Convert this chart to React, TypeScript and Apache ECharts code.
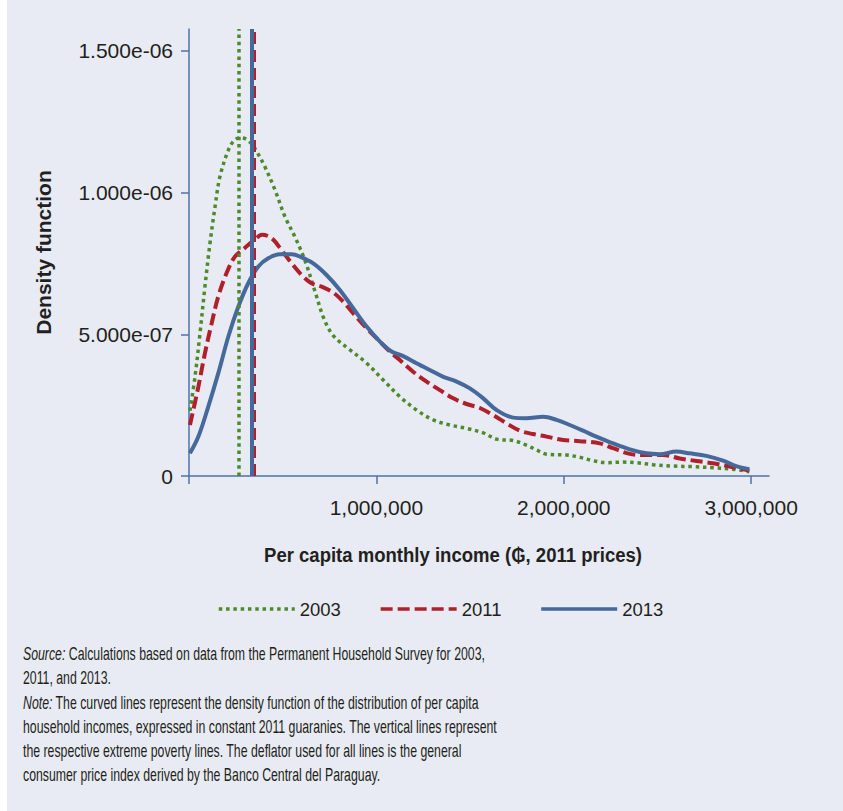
import React, { useEffect, useRef } from "react";
import * as echarts from "echarts";

// ---- Data (income in guaraníes, 2011 prices; density in units of 1e-6) ----
const seriesNames = ["2003", "2011", "2013"];

const income2003 = [5000, 32000, 59000, 85000, 112000, 139000, 165000, 210000, 240000, 270000, 300000, 330000, 361000, 405000, 459000, 512000, 565000, 619000, 672000, 720000, 770000, 859000, 948000, 1036000, 1125000, 1214000, 1303000, 1392000, 1481000, 1570000, 1641000, 1730000, 1800000, 1854000, 1908000, 2014000, 2085000, 2156000, 2228000, 2316000, 2388000, 2476000, 2583000, 2690000, 2796000, 2903000, 2990000];
const density2003 = [0.23, 0.35, 0.505, 0.668, 0.821, 0.95, 1.056, 1.15, 1.183, 1.193, 1.19, 1.175, 1.145, 1.091, 1.009, 0.915, 0.844, 0.76, 0.652, 0.555, 0.495, 0.445, 0.398, 0.339, 0.28, 0.233, 0.198, 0.18, 0.168, 0.152, 0.13, 0.125, 0.109, 0.092, 0.077, 0.074, 0.066, 0.054, 0.047, 0.049, 0.047, 0.04, 0.035, 0.033, 0.029, 0.024, 0.015];

const income2011 = [5000, 50000, 85000, 121000, 156000, 200000, 245000, 299000, 352000, 390000, 441000, 494000, 548000, 601000, 654000, 708000, 770000, 823000, 876000, 948000, 1019000, 1072000, 1125000, 1196000, 1268000, 1339000, 1410000, 1481000, 1552000, 1623000, 1694000, 1765000, 1836000, 1908000, 1996000, 2085000, 2192000, 2263000, 2352000, 2441000, 2530000, 2619000, 2708000, 2796000, 2903000, 2990000];
const density2011 = [0.18, 0.315, 0.433, 0.539, 0.633, 0.715, 0.774, 0.805, 0.835, 0.851, 0.839, 0.797, 0.75, 0.709, 0.68, 0.668, 0.647, 0.615, 0.574, 0.521, 0.474, 0.439, 0.409, 0.368, 0.333, 0.303, 0.274, 0.254, 0.24, 0.215, 0.186, 0.16, 0.148, 0.139, 0.127, 0.123, 0.115, 0.098, 0.078, 0.074, 0.074, 0.062, 0.053, 0.045, 0.031, 0.019];

const income2013 = [5000, 50000, 103000, 156000, 210000, 263000, 316000, 370000, 423000, 485000, 548000, 592000, 663000, 734000, 805000, 876000, 948000, 1019000, 1081000, 1143000, 1214000, 1285000, 1357000, 1428000, 1499000, 1570000, 1641000, 1730000, 1800000, 1890000, 1961000, 2032000, 2103000, 2174000, 2263000, 2352000, 2441000, 2512000, 2601000, 2672000, 2761000, 2850000, 2920000, 2990000];
const density2013 = [0.08, 0.139, 0.245, 0.362, 0.492, 0.597, 0.68, 0.739, 0.768, 0.782, 0.782, 0.774, 0.75, 0.709, 0.656, 0.592, 0.527, 0.474, 0.439, 0.423, 0.398, 0.374, 0.35, 0.333, 0.309, 0.274, 0.233, 0.206, 0.204, 0.209, 0.198, 0.18, 0.16, 0.139, 0.115, 0.094, 0.08, 0.077, 0.086, 0.08, 0.071, 0.054, 0.035, 0.024];

// extreme poverty lines (2003, 2011, 2013)
const povertyLines = [266700, 349000, 336000];

const xTickValues = [0, 1000000, 2000000, 3000000];
const xLabelValues = [1000000, 2000000, 3000000];
const yTickValues = [0, 0.5, 1.0, 1.5];
const yTickLabels = ["0", "5.000e-07", "1.000e-06", "1.500e-06"];

const xAxisTitle = "Per capita monthly income (\u20B2, 2011 prices)";
const yAxisTitle = "Density function";

const noteLines: [string, string][] = [
  ["Source:", " Calculations based on data from the Permanent Household Survey for 2003,"],
  ["", "2011, and 2013."],
  ["Note:", " The curved lines represent the density function of the distribution of per capita"],
  ["", "household incomes, expressed in constant 2011 guaranies. The vertical lines represent"],
  ["", "the respective extreme poverty lines. The deflator used for all lines is the general"],
  ["", "consumer price index derived by the Banco Central del Paraguay."],
];

// ---- Styles ----
const incomes = [income2003, income2011, income2013];
const densities = [density2003, density2011, density2013];
const colors = ["#4d8a2b", "#b0202a", "#46699b"];
const widths = [3.5, 4, 4];
const dashes: any[] = [[3.5, 3.8], [12, 5], "solid"];
const vWidths = [3.5, 3, 4];
const vDashes: any[] = [[3.5, 3.8], [12, 6], "solid"];
const FONT = '"Liberation Sans", Arial, sans-serif';
const TEXT = "#231f20";
const AXIS = "#4f72a6";

function measure(text: string, font: string): number {
  const c = document.createElement("canvas").getContext("2d");
  if (!c) return text.length * 8;
  c.font = font;
  return c.measureText(text).width;
}

export default function App() {
  const ref = useRef<HTMLDivElement>(null);
  useEffect(() => {
    if (!ref.current) return;
    const chart = echarts.init(ref.current, undefined, { renderer: "svg" });

    const noteSize = 19;
    const noteW = measure(noteLines[3][1], `${noteSize}px ${FONT}`);
    const noteScale = 474 / noteW;
    const titleW = measure(xAxisTitle, `bold 21px ${FONT}`);
    const titleScale = 378 / titleW;

    const noteGraphics = noteLines.map((ln, i) => ({
      type: "text",
      x: 16,
      y: 653.7 + i * 24.2,
      scaleX: noteScale,
      silent: true,
      style: {
        text: (ln[0] ? `{i|${ln[0]}}` : "") + ln[1],
        font: `${noteSize}px ${FONT}`,
        fill: TEXT,
        align: "left",
        verticalAlign: "middle",
        rich: {
          i: { fontStyle: "italic", fontSize: noteSize, fontFamily: FONT, fill: TEXT, color: TEXT },
        },
      },
    }));

    chart.setOption({
      animation: false,
      backgroundColor: "#e8ebf3",
      grid: { left: 182, right: 74, top: 29, bottom: 335, containLabel: false },
      xAxis: {
        type: "value",
        min: 0,
        max: 3095000,
        interval: 1000000,
        axisLine: { show: true, lineStyle: { color: AXIS, width: 1.5 } },
        axisTick: { show: true, length: 8, customValues: xTickValues, lineStyle: { color: AXIS, width: 1.5 } },
        axisLabel: {
          customValues: xLabelValues,
          margin: 21,
          color: TEXT,
          fontSize: 21,
          fontFamily: FONT,
          formatter: (v: number) => v.toLocaleString("en-US"),
        },
        splitLine: { show: false },
      },
      yAxis: {
        type: "value",
        min: 0,
        max: 1.577,
        interval: 0.5,
        name: yAxisTitle,
        nameLocation: "middle",
        nameGap: 135,
        nameTextStyle: { color: TEXT, fontSize: 21, fontWeight: "bold", fontFamily: FONT },
        axisLine: { show: true, lineStyle: { color: AXIS, width: 1.5 } },
        axisTick: { show: true, length: 8, customValues: yTickValues, lineStyle: { color: AXIS, width: 1.5 } },
        axisLabel: {
          customValues: yTickValues,
          margin: 16,
          color: TEXT,
          fontSize: 21,
          fontFamily: FONT,
          formatter: (v: number) => {
            const idx = yTickValues.findIndex((t) => Math.abs(t - v) < 1e-9);
            return idx >= 0 ? yTickLabels[idx] : "";
          },
        },
        splitLine: { show: false },
      },
      legend: {
        data: seriesNames,
        left: 210,
        top: 599.5,
        padding: 0,
        itemWidth: 76,
        itemHeight: 14,
        itemGap: 38,
        itemStyle: { opacity: 0 },
        lineStyle: { width: 3.5 },
        textStyle: { color: TEXT, fontSize: 18.5, fontFamily: FONT },
      },
      series: seriesNames.map((name, i) => ({
        type: "line",
        name,
        data: incomes[i].map((x, j) => [x, densities[i][j]]),
        symbol: "none",
        smooth: 0.35,
        silent: true,
        lineStyle: { color: colors[i], width: widths[i], type: dashes[i], cap: "butt" },
        itemStyle: { color: colors[i] },
        emphasis: { disabled: true },
        markLine: {
          silent: true,
          symbol: ["none", "none"],
          label: { show: false },
          emphasis: { disabled: true },
          lineStyle: { color: colors[i], width: vWidths[i], type: vDashes[i] },
          data: [{ xAxis: povertyLines[i] }],
        },
      })),
      graphic: [
        {
          type: "text",
          x: 446,
          y: 554.2,
          scaleX: titleScale,
          silent: true,
          style: {
            text: xAxisTitle,
            font: `bold 21px ${FONT}`,
            fill: TEXT,
            align: "center",
            verticalAlign: "middle",
          },
        },
        ...noteGraphics,
      ],
    });

    return () => chart.dispose();
  }, []);

  return (
    <div style={{ position: "absolute", left: 0, top: 0, width: 843, height: 811, background: "#ffffff" }}>
      <div ref={ref} style={{ position: "absolute", left: 7, top: 0, width: 836, height: 811 }} />
    </div>
  );
}
